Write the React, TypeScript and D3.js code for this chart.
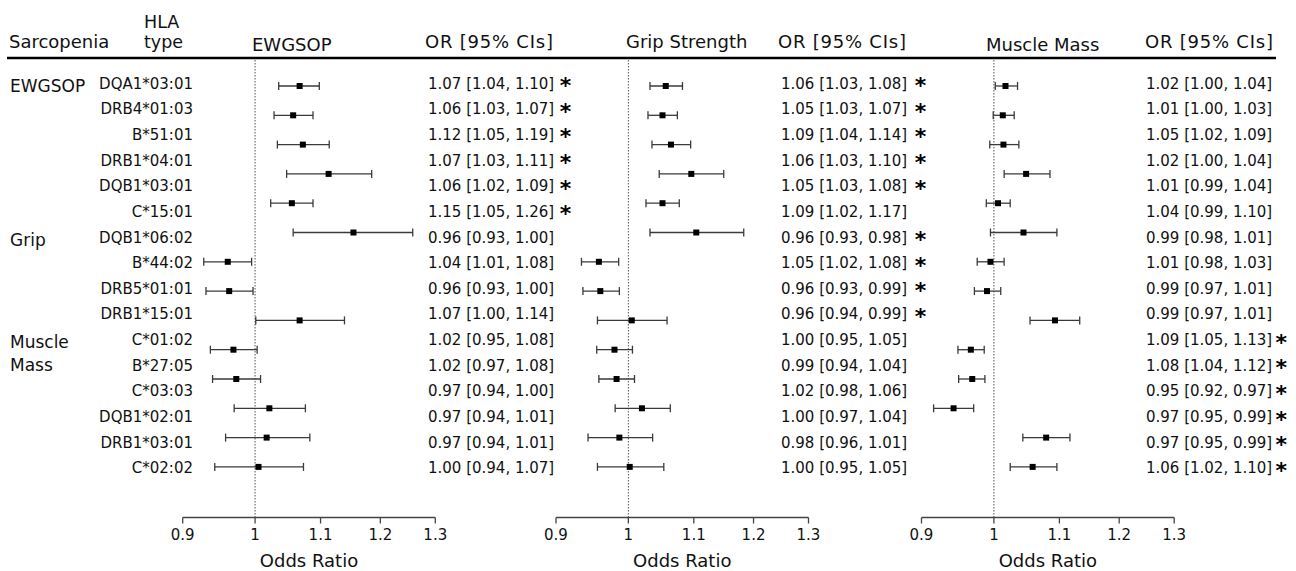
import React from "react";
import * as d3 from "d3";

// ---------- data ----------
const hlaTypes = [
  "DQA1*03:01", "DRB4*01:03", "B*51:01", "DRB1*04:01", "DQB1*03:01", "C*15:01",
  "DQB1*06:02", "B*44:02", "DRB5*01:01", "DRB1*15:01", "C*01:02", "B*27:05",
  "C*03:03", "DQB1*02:01", "DRB1*03:01", "C*02:02",
];

const groupLabels = [
  { lines: ["EWGSOP"], row: 0 },
  { lines: ["Grip"], row: 6 },
  { lines: ["Muscle", "Mass"], row: 10 },
];

const panelTitles = ["EWGSOP", "Grip Strength", "Muscle Mass"];

const ewgsopText = [
  "1.07 [1.04, 1.10]", "1.06 [1.03, 1.07]", "1.12 [1.05, 1.19]", "1.07 [1.03, 1.11]",
  "1.06 [1.02, 1.09]", "1.15 [1.05, 1.26]", "0.96 [0.93, 1.00]", "1.04 [1.01, 1.08]",
  "0.96 [0.93, 1.00]", "1.07 [1.00, 1.14]", "1.02 [0.95, 1.08]", "1.02 [0.97, 1.08]",
  "0.97 [0.94, 1.00]", "0.97 [0.94, 1.01]", "0.97 [0.94, 1.01]", "1.00 [0.94, 1.07]",
];
const ewgsopSig = [1, 1, 1, 1, 1, 1, 0, 0, 0, 0, 0, 0, 0, 0, 0, 0];

const gripText = [
  "1.06 [1.03, 1.08]", "1.05 [1.03, 1.07]", "1.09 [1.04, 1.14]", "1.06 [1.03, 1.10]",
  "1.05 [1.03, 1.08]", "1.09 [1.02, 1.17]", "0.96 [0.93, 0.98]", "1.05 [1.02, 1.08]",
  "0.96 [0.93, 0.99]", "0.96 [0.94, 0.99]", "1.00 [0.95, 1.05]", "0.99 [0.94, 1.04]",
  "1.02 [0.98, 1.06]", "1.00 [0.97, 1.04]", "0.98 [0.96, 1.01]", "1.00 [0.95, 1.05]",
];
const gripSig = [1, 1, 1, 1, 1, 0, 1, 1, 1, 1, 0, 0, 0, 0, 0, 0];

const muscleText = [
  "1.02 [1.00, 1.04]", "1.01 [1.00, 1.03]", "1.05 [1.02, 1.09]", "1.02 [1.00, 1.04]",
  "1.01 [0.99, 1.04]", "1.04 [0.99, 1.10]", "0.99 [0.98, 1.01]", "1.01 [0.98, 1.03]",
  "0.99 [0.97, 1.01]", "0.99 [0.97, 1.01]", "1.09 [1.05, 1.13]", "1.08 [1.04, 1.12]",
  "0.95 [0.92, 0.97]", "0.97 [0.95, 0.99]", "0.97 [0.95, 0.99]", "1.06 [1.02, 1.10]",
];
const muscleSig = [0, 0, 0, 0, 0, 0, 0, 0, 0, 0, 1, 1, 1, 1, 1, 1];

// plotted odds ratios and CIs (as drawn)
const ewgsopEst = [1.067, 1.057, 1.072, 1.113, 1.055, 1.154, 0.961, 0.963, 1.067, 0.969, 0.973, 1.021, 1.017, 1.005];
const ewgsopLo = [1.035, 1.028, 1.033, 1.047, 1.023, 1.057, 0.928, 0.931, 1.001, 0.937, 0.94, 0.97, 0.958, 0.943];
const ewgsopHi = [1.098, 1.088, 1.114, 1.185, 1.088, 1.258, 0.995, 0.997, 1.139, 1.003, 1.008, 1.076, 1.083, 1.073];

const gripEst = [1.056, 1.051, 1.064, 1.096, 1.051, 1.104, 0.958, 0.96, 1.005, 0.98, 0.983, 1.02, 0.987, 1.002];
const gripLo = [1.032, 1.029, 1.035, 1.046, 1.026, 1.032, 0.934, 0.936, 0.956, 0.955, 0.958, 0.981, 0.943, 0.956];
const gripHi = [1.082, 1.074, 1.095, 1.149, 1.077, 1.183, 0.986, 0.987, 1.058, 1.006, 1.009, 1.063, 1.036, 1.053];

const muscleEst = [1.017, 1.013, 1.014, 1.048, 1.006, 1.044, 0.995, 0.99, 1.093, 0.967, 0.969, 0.943, 1.079, 1.058];
const muscleLo = [1.002, 0.999, 0.994, 1.015, 0.989, 0.995, 0.976, 0.972, 1.054, 0.949, 0.95, 0.916, 1.043, 1.024];
const muscleHi = [1.035, 1.03, 1.037, 1.085, 1.024, 1.096, 1.015, 1.01, 1.133, 0.986, 0.987, 0.971, 1.117, 1.096];

const tickValues = [0.9, 1, 1.1, 1.2, 1.3];
const tickLabels = ["0.9", "1", "1.1", "1.2", "1.3"];

// ---------- layout ----------
const W = 1296;
const H = 571;
const FONT = "'DejaVu Sans', Verdana, sans-serif";
const ruleY = 58;
const axisY = 517.5;
const textRow0 = 88.6;
const textStep = 25.65;
const markRow0 = 86;
const markStep = 29.3;

const panels = [
  { title: panelTitles[0], titleX: 252, titleY: 51, range: [182.7, 435.3], orX: 428, starX: 565.5, text: ewgsopText, sig: ewgsopSig, est: ewgsopEst, lo: ewgsopLo, hi: ewgsopHi, orHeadX: 425 },
  { title: panelTitles[1], titleX: 626, titleY: 48, range: [556, 808.5], orX: 781, starX: 920.5, text: gripText, sig: gripSig, est: gripEst, lo: gripLo, hi: gripHi, orHeadX: 778 },
  { title: panelTitles[2], titleX: 986, titleY: 51, range: [921.5, 1174.2], orX: 1146, starX: 1281.3, text: muscleText, sig: muscleSig, est: muscleEst, lo: muscleLo, hi: muscleHi, orHeadX: 1145 },
];

const yText = d3.scaleLinear().domain([0, 1]).range([textRow0, textRow0 + textStep]);
const yMark = d3.scaleLinear().domain([0, 1]).range([markRow0, markRow0 + markStep]);

function Panel({ p }: { p: (typeof panels)[number] }) {
  const x = d3.scaleLog().domain([0.9, 1.3]).range(p.range as [number, number]);
  const cx = (p.range[0] + p.range[1]) / 2;
  const ciColor = "#3a3a3a";
  return (
    <g>
      <text x={p.titleX} y={p.titleY} fontSize={18}>{p.title}</text>
      <text x={p.orHeadX} y={48} fontSize={18} textLength={128} lengthAdjust="spacing">OR [95% CIs]</text>
      <line x1={x(1)} x2={x(1)} y1={ruleY + 2} y2={axisY} stroke="#555" strokeWidth={1} strokeDasharray="1.5,1.5" />
      {p.est.map((e, i) => {
        const y = yMark(i);
        const x0 = x(p.lo[i]);
        const x1 = x(p.hi[i]);
        return (
          <g key={i}>
            <line x1={x0} x2={x1} y1={y} y2={y} stroke={ciColor} strokeWidth={1.3} />
            <line x1={x0} x2={x0} y1={y - 4} y2={y + 4} stroke={ciColor} strokeWidth={1.3} />
            <line x1={x1} x2={x1} y1={y - 4} y2={y + 4} stroke={ciColor} strokeWidth={1.3} />
            <rect x={x(e) - 3} y={y - 3} width={6} height={6} fill="#000" />
          </g>
        );
      })}
      {p.text.map((t, i) => (
        <g key={"t" + i}>
          <text x={p.orX} y={yText(i)} fontSize={15}>{t}</text>
          {p.sig[i] ? (
            <text x={p.starX} y={yText(i) + 4.5} fontSize={22} fontWeight="bold" textAnchor="middle" fill="#000">*</text>
          ) : null}
        </g>
      ))}
      <line x1={x(0.9)} x2={x(1.3)} y1={axisY} y2={axisY} stroke="#444" strokeWidth={1.3} />
      {tickValues.map((v, i) => (
        <g key={"k" + i}>
          <line x1={x(v)} x2={x(v)} y1={axisY} y2={axisY + 6} stroke="#444" strokeWidth={1.3} />
          <text x={x(v)} y={540} fontSize={15} textAnchor="middle">{tickLabels[i]}</text>
        </g>
      ))}
      <text x={cx} y={567} fontSize={18} textAnchor="middle">Odds Ratio</text>
    </g>
  );
}

export default function App() {
  return (
    <div style={{ position: "absolute", left: 0, top: 0 }}>
      <svg width={W} height={H} style={{ display: "block", background: "#fff" }} fontFamily={FONT} fill="#111">
        <text x={9} y={48} fontSize={18}>Sarcopenia</text>
        <text x={144} y={28} fontSize={17.5}>HLA</text>
        <text x={144} y={48} fontSize={17.5}>type</text>
        <line x1={7} x2={1276} y1={ruleY} y2={ruleY} stroke="#000" strokeWidth={2.6} />
        {hlaTypes.map((h, i) => (
          <text key={h} x={193} y={yText(i)} fontSize={15} textAnchor="end">{h}</text>
        ))}
        {groupLabels.map((g) =>
          g.lines.map((l, j) => (
            <text key={l} x={10} y={yText(g.row) + 3 + j * 22.5} fontSize={17}>{l}</text>
          ))
        )}
        {panels.map((p, i) => (
          <Panel key={i} p={p} />
        ))}
      </svg>
    </div>
  );
}
